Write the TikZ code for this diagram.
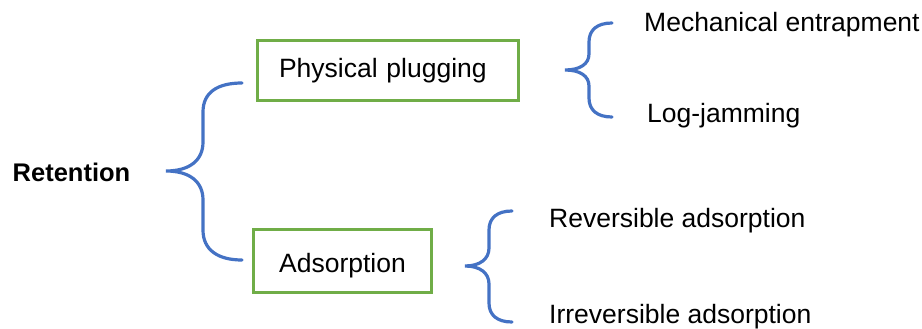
\documentclass[tikz,border=0pt]{standalone}
\usepackage{fontspec}
\setmainfont{Liberation Sans}
\usepackage{tikz}
\definecolor{bblue}{HTML}{4472C4}
\definecolor{bgreen}{HTML}{70AD47}

\begin{document}
\begin{tikzpicture}[
  x=1pt,y=-1pt,
  font=\fontsize{26.5}{30}\selectfont,
  item/.style={inner sep=0pt,anchor=base west},
  box/.style={draw=bgreen,line width=3.2pt,inner sep=0pt,minimum width=261pt,minimum height=60pt},
  curly/.style={draw=bblue,line width=3.2pt,line cap=round}]
\useasboundingbox (0,0) rectangle (922,329);
% root
\node[inner sep=0pt,anchor=base,font=\fontsize{25.5}{30}\selectfont\bfseries] (ret) at (71.5,181) {Retention};
% second level
\node[box,text width=218pt,align=left] (pp) at (388,70.5) {Physical plugging};
\node[box,minimum width=178pt,minimum height=63pt,text height=29pt,text depth=5.6pt] (ads) at (342.5,261) {Adsorption};
% leaves
\node[item] (mech) at (644,32) {Mechanical entrapment};
\node[item] (log) at (647,122) {Log-jamming};
\node[item] (rev) at (549,227) {Reversible adsorption};
\node[item] (irr) at (549,323) {Irreversible adsorption};
% braces
\draw[curly] (242,83) .. controls (218,83) and (203,92) .. (203,112) -- (203,142)
  .. controls (203,160) and (190,171) .. (166,171)
  .. controls (190,171) and (203,182) .. (203,200) -- (203,230)
  .. controls (203,250) and (218,260) .. (242,260);
\draw[curly] (612,23) .. controls (597,23) and (589,30) .. (589,42) -- (589,54)
  .. controls (589,64) and (580,70) .. (565,70)
  .. controls (580,70) and (589,76) .. (589,86) -- (589,98)
  .. controls (589,110) and (597,117) .. (612,117);
\draw[curly] (512,211) .. controls (497,211) and (489,218) .. (489,230) -- (489,248)
  .. controls (489,259) and (480,266) .. (465,266)
  .. controls (480,266) and (489,273) .. (489,284) -- (489,303)
  .. controls (489,315) and (497,322) .. (512,322);
\end{tikzpicture}
\end{document}
